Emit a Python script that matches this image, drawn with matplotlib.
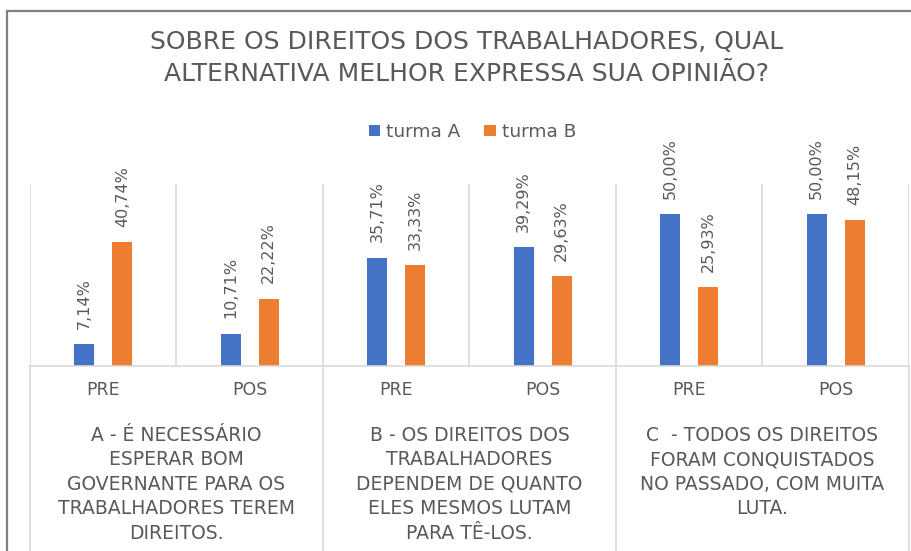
import matplotlib.pyplot as plt
from matplotlib.patches import Rectangle
from matplotlib.transforms import blended_transform_factory
import numpy as np

fases = ['PRE', 'POS', 'PRE', 'POS', 'PRE', 'POS']
grupos = ['A - É NECESSÁRIO\nESPERAR BOM\nGOVERNANTE PARA OS\nTRABALHADORES TEREM\nDIREITOS.',
          'B - OS DIREITOS DOS\nTRABALHADORES\nDEPENDEM DE QUANTO\nELES MESMOS LUTAM\nPARA TÊ-LOS.',
          'C  - TODOS OS DIREITOS\nFORAM CONQUISTADOS\nNO PASSADO, COM MUITA\nLUTA.']
turma_a = [7.14, 10.71, 35.71, 39.29, 50.00, 50.00]
turma_b = [40.74, 22.22, 33.33, 29.63, 25.93, 48.15]

azul = '#4472C4'
laranja = '#ED7D31'
cinza = '#595959'
linha = '#d9d9d9'

W, H = 912, 551
fig = plt.figure(figsize=(W / 100, H / 100), dpi=100)
ax = fig.add_axes([30 / W, 1 - 366 / H, 879 / W, 182 / H])

x = np.arange(len(fases))
off = 0.13
larg = 0.137
ba = ax.bar(x - off, turma_a, larg, color=azul, label='turma A')
bb = ax.bar(x + off, turma_b, larg, color=laranja, label='turma B')

def rotulos(barras, vals):
    for b, v in zip(barras, vals):
        ax.annotate(f'{v:.2f}%'.replace('.', ','), (b.get_x() + b.get_width() / 2, v),
                    xytext=(0, 11), textcoords='offset points', rotation=90,
                    ha='center', va='bottom', fontsize=11.5, color=cinza)

rotulos(ba, turma_a)
rotulos(bb, turma_b)

ax.set_xlim(-0.5, 5.5)
ax.set_ylim(0, 60)
ax.set_yticks([])
for s in ['top', 'right', 'left']:
    ax.spines[s].set_visible(False)
ax.spines['bottom'].set_color(linha)
ax.spines['bottom'].set_linewidth(1.2)
for xv in np.arange(-0.5, 6, 1):
    ax.axvline(xv, color=linha, lw=1.2)

ax.set_xticks(x)
ax.set_xticklabels(fases, fontsize=12.5, color=cinza)
ax.tick_params(axis='x', length=0, pad=11)

# linhas divisórias dos grupos abaixo do eixo
tr = blended_transform_factory(ax.transData, fig.transFigure)
for xv in [-0.5, 1.5, 3.5, 5.5]:
    ax.plot([xv, xv], [1 - 366 / H, 0], color=linha, lw=1.2, transform=tr, clip_on=False)

for i, g in enumerate(grupos):
    ax.text(2 * i + 0.5, 1 - 426 / H, g, transform=tr, ha='center', va='top',
            fontsize=13.5, color=cinza, linespacing=1.36)

fig.text(0.512, 1 - 58 / H, 'SOBRE OS DIREITOS DOS TRABALHADORES, QUAL\nALTERNATIVA MELHOR EXPRESSA SUA OPINIÃO?',
         ha='center', va='center', fontsize=18, color=cinza, linespacing=1.45)

fig.legend(handles=[ba, bb], loc='center', bbox_to_anchor=(0.518, 1 - 132 / H), ncol=2,
           frameon=False, fontsize=13.3, labelcolor=cinza, handlelength=0.6, handleheight=0.6,
           handletextpad=0.35, columnspacing=1.3)

fig.add_artist(Rectangle((7 / W, -0.1), 1.2, 1.1 - 11 / H, transform=fig.transFigure,
                         fill=False, edgecolor='#7f7f7f', lw=1.6))

fig.savefig('out.png', dpi=100)
